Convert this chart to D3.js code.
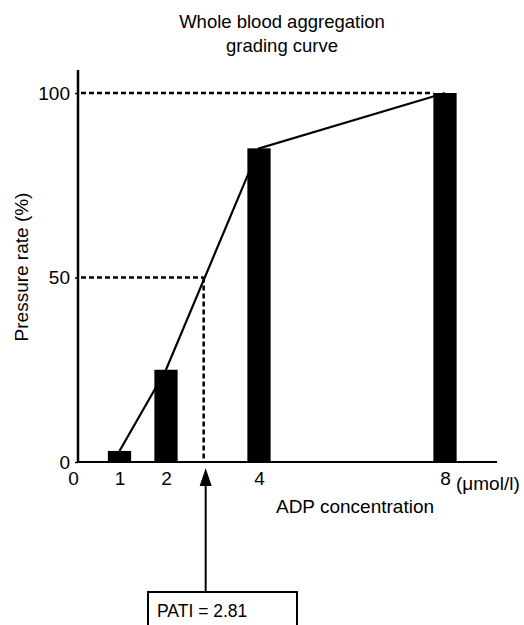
<!DOCTYPE html>
<html>
<head>
<meta charset="utf-8">
<script src="https://cdn.jsdelivr.net/npm/d3@7"></script>
<style>
  body { margin: 0; background: #fff; }
  text { font-family: "Liberation Sans", Arial, sans-serif; fill: #000; }
</style>
</head>
<body>
<div id="chart"></div>
<script>
const concentrations = [1, 2, 4, 8];
const pressureRates = [3, 25, 85, 100];
const xTicks = [0, 1, 2, 4, 8];
const yTicks = [0, 50, 100];
const pati = 2.81;
const patiRate = 50;

const width = 524;
const height = 625;
const fontSize = '19px';

const svg = d3.select('#chart')
  .append('svg')
  .attr('width', width)
  .attr('height', height);

const x = d3.scaleLinear()
  .domain([0, 8])
  .range([73, 445]);

const y = d3.scaleLinear()
  .domain([0, 100])
  .range([462, 93]);

const barW = x(0.5) - x(0);

// title
svg.append('text')
  .attr('x', 282).attr('y', 28)
  .attr('text-anchor', 'middle')
  .attr('font-size', '18.5px')
  .text('Whole blood aggregation');
svg.append('text')
  .attr('x', 282).attr('y', 52)
  .attr('text-anchor', 'middle')
  .attr('font-size', '18.5px')
  .text('grading curve');

// dashed guide lines
const guides = svg.append('g')
  .attr('stroke', '#000')
  .attr('stroke-width', 2.5)
  .attr('stroke-dasharray', '5,3')
  .attr('fill', 'none');

guides.append('line')
  .attr('x1', 81).attr('x2', x(8) - barW / 2)
  .attr('y1', y(100)).attr('y2', y(100));
guides.append('line')
  .attr('x1', 81).attr('x2', x(pati))
  .attr('y1', y(patiRate)).attr('y2', y(patiRate));
guides.append('line')
  .attr('x1', x(pati)).attr('x2', x(pati))
  .attr('y1', y(patiRate)).attr('y2', y(0));

// bars
svg.append('g')
  .attr('fill', '#000')
  .selectAll('rect')
  .data(concentrations)
  .join('rect')
    .attr('x', d => x(d) - barW / 2)
    .attr('y', (d, i) => y(pressureRates[i]))
    .attr('width', barW)
    .attr('height', (d, i) => y(0) - y(pressureRates[i]));

// connecting line
const line = d3.line()
  .x(d => x(d[0]))
  .y(d => y(d[1]));

svg.append('path')
  .datum(concentrations.map((c, i) => [c, pressureRates[i]]))
  .attr('d', line)
  .attr('fill', 'none')
  .attr('stroke', '#000')
  .attr('stroke-width', 2.2);

// axes
function yAxis(g) {
  g.attr('transform', `translate(78,0)`)
    .call(d3.axisLeft(y).tickValues(yTicks).tickSize(3).tickPadding(5))
    .attr('font-size', fontSize)
    .attr('font-family', '"Liberation Sans", Arial, sans-serif')
    .call(g => g.select('.domain').remove())
    .call(g => g.selectAll('.tick line').attr('stroke-width', 1.5));
}

function xAxis(g) {
  g.attr('transform', `translate(0,${y(0)})`)
    .call(d3.axisBottom(x).tickValues(xTicks).tickSize(0).tickPadding(10))
    .attr('font-size', fontSize)
    .attr('font-family', '"Liberation Sans", Arial, sans-serif')
    .call(g => g.select('.domain').remove());
}

svg.append('g').call(xAxis);
svg.append('g').call(yAxis);

// axis lines
svg.append('line')
  .attr('x1', 78).attr('x2', 78)
  .attr('y1', 70).attr('y2', y(0) + 1)
  .attr('stroke', '#000').attr('stroke-width', 2.5);
svg.append('line')
  .attr('x1', 77).attr('x2', 497)
  .attr('y1', y(0)).attr('y2', y(0))
  .attr('stroke', '#000').attr('stroke-width', 2);

svg.append('text')
  .attr('x', x(8) + 11).attr('y', y(0) + 28)
  .attr('font-size', fontSize)
  .text('(\u03bcmol/l)');

svg.append('text')
  .attr('x', 355).attr('y', y(0) + 51)
  .attr('text-anchor', 'middle')
  .attr('font-size', fontSize)
  .text('ADP concentration');

svg.append('text')
  .attr('transform', `translate(28,267) rotate(-90)`)
  .attr('text-anchor', 'middle')
  .attr('font-size', fontSize)
  .text('Pressure rate (%)');

// arrow to PATI
const ax = x(pati) + 2;
svg.append('line')
  .attr('x1', ax).attr('x2', ax)
  .attr('y1', 592).attr('y2', 484)
  .attr('stroke', '#000').attr('stroke-width', 2);
svg.append('path')
  .attr('d', `M${ax},468 L${ax - 6},486 L${ax + 6},486 Z`)
  .attr('fill', '#000');

// PATI box
svg.append('rect')
  .attr('x', 148).attr('y', 592)
  .attr('width', 149).attr('height', 40)
  .attr('fill', 'none')
  .attr('stroke', '#000').attr('stroke-width', 2);
svg.append('text')
  .attr('x', 157).attr('y', 617)
  .attr('font-size', '17.5px')
  .text('PATI = 2.81');
</script>
</body>
</html>
